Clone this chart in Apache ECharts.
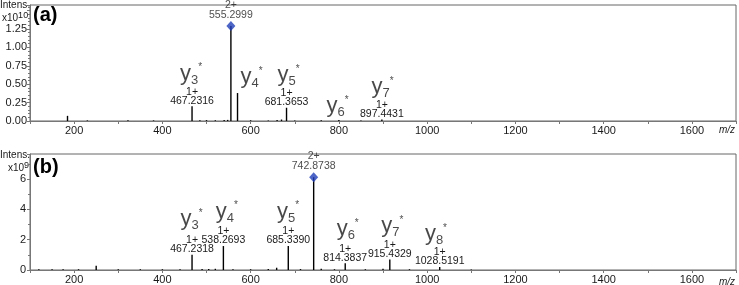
<!DOCTYPE html>
<html>
<head>
<meta charset="utf-8">
<script src="https://cdn.jsdelivr.net/npm/echarts@6/dist/echarts.min.js"></script>
<style>
  html, body { margin: 0; padding: 0; background: #fff; }
  #chart { width: 739px; height: 285px; }
</style>
</head>
<body>
<div id="chart"></div>
<script>
// panel (a)
let mzA = [185, 230, 322, 380, 467.2316, 485, 500, 520, 540, 548, 555.2999, 570.3, 600, 640, 660, 670, 681.3653, 700, 760, 800, 850, 897.4431]
let intA = [0.07, 0.008, 0.01, 0.008, 0.20, 0.01, 0.012, 0.01, 0.012, 0.015, 1.29, 0.38, 0.01, 0.008, 0.012, 0.02, 0.18, 0.008, 0.01, 0.012, 0.008, 0.02]
let chargeA = ['', '', '', '', '1+', '', '', '', '', '', '2+', '', '', '', '', '', '1+', '', '', '', '', '1+']
let massA = ['', '', '', '', '467.2316', '', '', '', '', '', '555.2999', '', '', '', '', '', '681.3653', '', '', '', '', '897.4431']
let ionA = ['3', '4', '5', '6', '7']
let ionA_mz = [465, 602, 686, 797, 899]
let ionA_int = [0.63, 0.58, 0.61, 0.19, 0.45]

// panel (b)
let mzB = [120, 150, 175, 210, 250, 300, 350, 400, 440, 467.2318, 490, 505, 520, 538.2693, 560, 600, 640, 659, 685.339, 713, 742.8738, 760, 790, 814.3837, 860, 900, 915.4329, 960, 1028.5191, 1100]
let intB = [0.05, 0.05, 0.05, 0.05, 0.28, 0.05, 0.05, 0.05, 0.05, 1.0, 0.06, 0.06, 0.08, 1.58, 0.05, 0.05, 0.06, 0.15, 1.58, 0.06, 6.12, 0.08, 0.05, 0.44, 0.05, 0.08, 0.7, 0.05, 0.2, 0.03]
let chargeB = ['', '', '', '', '', '', '', '', '', '1+', '', '', '', '1+', '', '', '', '', '1+', '', '2+', '', '', '1+', '', '', '1+', '', '1+', '']
let massB = ['', '', '', '', '', '', '', '', '', '467.2318', '', '', '', '538.2693', '', '', '', '', '685.3390', '', '742.8738', '', '', '814.3837', '', '', '915.4329', '', '1028.5191', '']
let ionB = ['3', '4', '5', '6', '7', '8']
let ionB_mz = [466, 546, 685, 820, 921, 1020]
let ionB_int = [3.3, 3.78, 3.78, 2.64, 2.82, 2.31]

let xTicks = [200, 400, 600, 800, 1000, 1200, 1400, 1600]

let textColor = '#1a1a1a'
let axisColor = '#777'
let fontFam = 'Liberation Sans, Arial, sans-serif'

function peakData (mz, ints, charge, mass) {
  return mz.map(function (m, i) {
    let item = { value: [m, ints[i]] }
    if (charge[i] === '1+') {
      item.label = {
        show: true,
        position: 'top',
        distance: 1,
        formatter: charge[i] + '\n' + mass[i]
      }
    }
    return item
  })
}

function precursorData (mz, ints, charge, mass) {
  let out = []
  mz.forEach(function (m, i) {
    if (charge[i] === '2+') {
      out.push({ value: [m, ints[i]], name: charge[i] + '\n' + mass[i] })
    }
  })
  return out
}

function ionData (nums, mz, ints) {
  return nums.map(function (n, i) {
    return { value: [mz[i], ints[i]], name: n }
  })
}

let massLabel = {
  color: textColor,
  fontSize: 10.5,
  lineHeight: 9,
  fontFamily: fontFam,
  align: 'center'
}

let ionLabel = {
  show: true,
  position: 'inside',
  color: textColor,
  fontFamily: fontFam,
  formatter: function (p) {
    return '{y|y}{s|' + p.name + '}{t|*}'
  },
  rich: {
    y: { fontSize: 22, lineHeight: 24, verticalAlign: 'top', color: textColor, fontFamily: fontFam },
    s: { fontSize: 13, lineHeight: 14, verticalAlign: 'bottom', color: textColor, fontFamily: fontFam },
    t: { fontSize: 10, lineHeight: 10, verticalAlign: 'top', color: textColor, fontFamily: fontFam }
  }
}

function makeXAxis (gridIndex) {
  return {
    type: 'value',
    gridIndex: gridIndex,
    min: 100,
    max: 1700,
    interval: 100,
    axisLine: { show: true, lineStyle: { color: axisColor, width: 1 } },
    axisTick: { show: true, length: 3, lineStyle: { color: axisColor } },
    splitLine: { show: false },
    axisLabel: {
      color: textColor,
      fontSize: 11,
      fontFamily: fontFam,
      margin: 4,
      formatter: function (v) {
        return xTicks.indexOf(v) >= 0 ? String(v) : ''
      }
    }
  }
}

let chart = echarts.init(document.getElementById('chart'))

let option = {
  animation: false,
  backgroundColor: '#fff',
  grid: [
    { left: 30, right: 1, top: 5, height: 116, show: true, borderColor: '#666', borderWidth: 1 },
    { left: 30, right: 1, top: 154, height: 116, show: true, borderColor: '#666', borderWidth: 1 }
  ],
  xAxis: [makeXAxis(0), makeXAxis(1)],
  yAxis: [
    {
      type: 'value',
      gridIndex: 0,
      min: 0,
      max: 1.576,
      interval: 0.25,
      axisLine: { show: true, lineStyle: { color: axisColor } },
      axisTick: { show: true, length: 3, lineStyle: { color: axisColor } },
      minorTick: { show: true, splitNumber: 5, length: 2, lineStyle: { color: axisColor } },
      splitLine: { show: false },
      axisLabel: {
        color: textColor,
        fontSize: 11,
        fontFamily: fontFam,
        margin: 3,
        formatter: function (v) {
          return v <= 1.3 ? v.toFixed(2) : ''
        }
      }
    },
    {
      type: 'value',
      gridIndex: 1,
      min: 0,
      max: 7.65,
      interval: 2,
      axisLine: { show: true, lineStyle: { color: axisColor } },
      axisTick: { show: true, length: 3, lineStyle: { color: axisColor } },
      minorTick: { show: true, splitNumber: 2, length: 2, lineStyle: { color: axisColor } },
      splitLine: { show: false },
      axisLabel: {
        color: textColor,
        fontSize: 11,
        fontFamily: fontFam,
        margin: 4,
        formatter: function (v) {
          return v <= 6.5 ? String(v) : ''
        }
      }
    }
  ],
  graphic: [
    { type: 'text', left: 0, top: 0, style: { text: 'Intens.', fontSize: 10, fontFamily: fontFam, fill: textColor } },
    { type: 'text', left: 2, top: 11, style: { text: '{a|x10}{b|10}', fontFamily: fontFam, rich: { a: { fontSize: 10, fill: textColor, verticalAlign: 'bottom', lineHeight: 12 }, b: { fontSize: 9, fill: textColor, verticalAlign: 'top', lineHeight: 9 } } } },
    { type: 'text', left: 33, top: 5, style: { text: '(a)', fontSize: 20, fontWeight: 'bold', fontFamily: fontFam, fill: '#000' } },
    { type: 'text', left: 0, top: 150, style: { text: 'Intens.', fontSize: 10, fontFamily: fontFam, fill: textColor } },
    { type: 'text', left: 8, top: 161, style: { text: '{a|x10}{b|9}', fontFamily: fontFam, rich: { a: { fontSize: 10, fill: textColor, verticalAlign: 'bottom', lineHeight: 12 }, b: { fontSize: 9, fill: textColor, verticalAlign: 'top', lineHeight: 9 } } } },
    { type: 'text', left: 33, top: 157, style: { text: '(b)', fontSize: 20, fontWeight: 'bold', fontFamily: fontFam, fill: '#000' } },
    { type: 'text', left: 719, top: 125, style: { text: 'm/z', fontSize: 10, fontStyle: 'italic', fontFamily: fontFam, fill: textColor } },
    { type: 'text', left: 719, top: 277, style: { text: 'm/z', fontSize: 10, fontStyle: 'italic', fontFamily: fontFam, fill: textColor } }
  ],
  series: [
    {
      type: 'bar',
      xAxisIndex: 0,
      yAxisIndex: 0,
      barWidth: 1.4,
      itemStyle: { color: '#000' },
      label: massLabel,
      data: peakData(mzA, intA, chargeA, massA)
    },
    {
      type: 'bar',
      xAxisIndex: 1,
      yAxisIndex: 1,
      barWidth: 1.4,
      itemStyle: { color: '#000' },
      label: massLabel,
      data: peakData(mzB, intB, chargeB, massB)
    },
    {
      type: 'scatter',
      xAxisIndex: 0,
      yAxisIndex: 0,
      symbol: 'diamond',
      symbolSize: [9, 10],
      itemStyle: { color: '#1f3fb8' },
      label: { show: true, position: 'top', distance: 1, formatter: '{b}', color: textColor, fontSize: 10.5, lineHeight: 10, fontFamily: fontFam },
      data: precursorData(mzA, intA, chargeA, massA)
    },
    {
      type: 'scatter',
      xAxisIndex: 1,
      yAxisIndex: 1,
      symbol: 'diamond',
      symbolSize: [9, 10],
      itemStyle: { color: '#1f3fb8' },
      label: { show: true, position: 'top', distance: 1, formatter: '{b}', color: textColor, fontSize: 10.5, lineHeight: 10, fontFamily: fontFam },
      data: precursorData(mzB, intB, chargeB, massB)
    },
    {
      type: 'scatter',
      xAxisIndex: 0,
      yAxisIndex: 0,
      symbolSize: 0,
      silent: true,
      label: ionLabel,
      data: ionData(ionA, ionA_mz, ionA_int)
    },
    {
      type: 'scatter',
      xAxisIndex: 1,
      yAxisIndex: 1,
      symbolSize: 0,
      silent: true,
      label: ionLabel,
      data: ionData(ionB, ionB_mz, ionB_int)
    }
  ]
}

chart.setOption(option)
</script>
</body>
</html>
